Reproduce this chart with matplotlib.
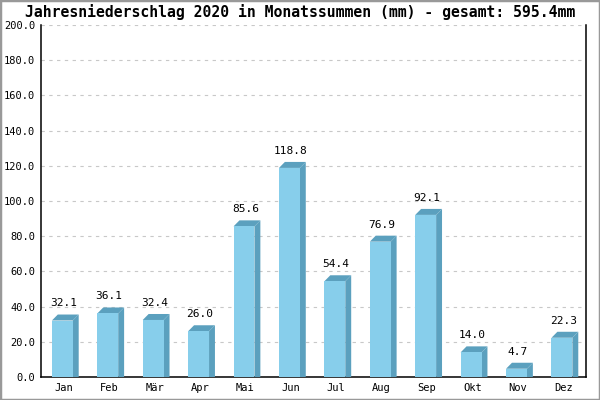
import numpy as np
import matplotlib.pyplot as plt
from matplotlib.patches import Polygon, Rectangle

months = ['Jan', 'Feb', 'Mär', 'Apr', 'Mai', 'Jun', 'Jul', 'Aug', 'Sep', 'Okt', 'Nov', 'Dez']
rain = [32.1, 36.1, 32.4, 26.0, 85.6, 118.8, 54.4, 76.9, 92.1, 14.0, 4.7, 22.3]
title = 'Jahresniederschlag 2020 in Monatssummen (mm) - gesamt: 595.4mm'

front = '#87ceeb'
dark = '#5ba0be'
mono = 'DejaVu Sans Mono'

fig = plt.figure(figsize=(6, 4), dpi=100)
ax = fig.add_axes([41 / 600, 23 / 400, 545 / 600, 352 / 400])
ax.set_xlim(0, 12)
ax.set_ylim(0, 200)

w = 0.46      # front width in slots
dx = 0.13     # depth, x
dy = 3.4      # depth, y (mm units)

for i, v in enumerate(rain):
    x0 = i + 0.5 - w / 2 - 0.03
    x1 = x0 + w
    ax.add_patch(Polygon([(x1, 0), (x1 + dx, 0), (x1 + dx, v + dy), (x1, v)],
                         closed=True, fc=dark, ec='none', zorder=3))
    ax.add_patch(Polygon([(x0, v), (x1, v), (x1 + dx, v + dy), (x0 + dx, v + dy)],
                         closed=True, fc=dark, ec='none', zorder=3))
    ax.add_patch(Rectangle((x0, 0), w, v, fc=front, ec='none', zorder=4))
    ax.text(i + 0.5, v + dy + 3.5, f'{v:.1f}', ha='center', va='bottom',
            family=mono, fontsize=8, zorder=5)

ax.set_yticks(np.arange(0, 201, 20))
ax.set_yticklabels([f'{t:.1f}' for t in range(0, 201, 20)], family=mono, fontsize=7.5)
ax.set_xticks(np.arange(12) + 0.5)
ax.set_xticklabels(months, family=mono, fontsize=7.5)
ax.tick_params(length=0, pad=4)
ax.yaxis.grid(True, color='#c8c8c8', linestyle=(0, (3, 4)), linewidth=0.8)
ax.set_axisbelow(True)
ax.spines['top'].set_visible(False)
for s in ['left', 'bottom', 'right']:
    ax.spines[s].set_linewidth(1.1)
    ax.spines[s].set_color('black')

fig.text(0.5, 1 - 12 / 400, title, ha='center', va='center',
         family=mono, fontsize=10.6, fontweight='bold')
fig.patches.append(Rectangle((0, 0), 1, 1, transform=fig.transFigure,
                             fill=False, ec='#999999', lw=2.5))

fig.savefig('out.png', dpi=100)
